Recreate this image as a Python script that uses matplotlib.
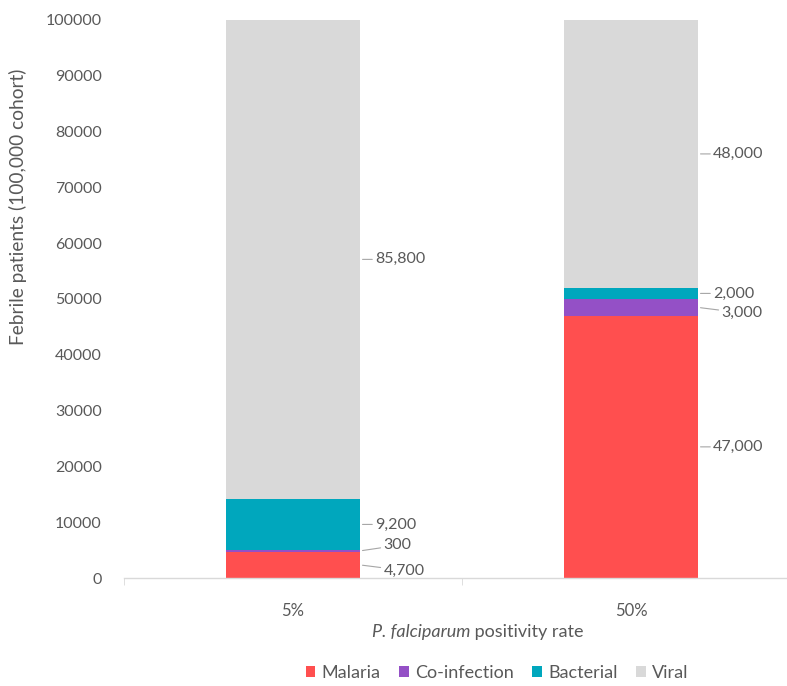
import matplotlib
matplotlib.use("Agg")
import matplotlib.pyplot as plt
from matplotlib.offsetbox import TextArea, HPacker, AnchoredOffsetbox
import numpy as np

plt.rcParams['font.family'] = ['Lato', 'DejaVu Sans']

# data
categories = ["5%", "50%"]
series = ["Malaria", "Co-infection", "Bacterial", "Viral"]
malaria = [4700, 47000]
coinfection = [300, 3000]
bacterial = [9200, 2000]
viral = [85800, 48000]
colors = ["#ff4f4f", "#9450c6", "#00a7bd", "#d9d9d9"]

# label nudges in points (for thin segments)
nudges = {(0, 1): 4, (0, 0): -4, (1, 1): -4}

grey = "#595959"
fig = plt.figure(figsize=(7.87, 6.86), dpi=100)
ax = fig.add_axes([124/787, 1-578/686, 676/787, 558/686])

x = np.arange(len(categories))
width = 0.395
bottom = np.zeros(len(categories))
values = [malaria, coinfection, bacterial, viral]
for si, (name, vals, c) in enumerate(zip(series, values, colors)):
    ax.bar(x, vals, width, bottom=bottom, color=c, label=name, zorder=2)
    for ci, v in enumerate(vals):
        mid = bottom[ci] + v / 2
        dy = nudges.get((ci, si), 0)
        ax.annotate(f"{v:,}", xy=(x[ci] + width/2, mid), xycoords="data",
                    xytext=(11 + (6 if abs(dy) > 0 else 0), dy), textcoords="offset points",
                    ha="left", va="center", fontsize=11.5, color=grey,
                    arrowprops=dict(arrowstyle="-", color="#a6a6a6", lw=0.8,
                                    shrinkA=0, shrinkB=2))
    bottom += np.array(vals)

ax.set_xlim(-0.5, 1.5)
ax.set_ylim(0, 100000)
ax.set_yticks(np.arange(0, 100001, 10000))
ax.yaxis.set_major_formatter(matplotlib.ticker.FuncFormatter(lambda v, p: f"{int(v)}"))
ax.set_xticks(x)
ax.set_xticklabels(categories)
ax.set_xticks([-0.5, 0.5, 1.5], minor=True)
ax.tick_params(axis="y", length=0, pad=16, labelsize=11.5, labelcolor=grey)
ax.tick_params(axis="x", which="major", length=0, pad=18, labelsize=12, labelcolor=grey)
ax.tick_params(axis="x", which="minor", length=5, color="#d9d9d9", direction="out")
for s in ["top", "right", "left"]:
    ax.spines[s].set_visible(False)
ax.spines["bottom"].set_color("#d9d9d9")
ax.spines["bottom"].set_linewidth(1)

ax.set_ylabel("Febrile patients (100,000 cohort)", fontsize=13.8, color=grey)
ax.yaxis.set_label_coords(-0.143, 0.665)

# x label with italic part
t1 = TextArea("P. falciparum", textprops=dict(style="italic", fontsize=13, color=grey))
t2 = TextArea(" positivity rate", textprops=dict(fontsize=13, color=grey))
box = HPacker(children=[t1, t2], align="baseline", pad=0, sep=0)
anch = AnchoredOffsetbox(loc="center", child=box, frameon=False,
                         bbox_to_anchor=(478/787, 1-632/686),
                         bbox_transform=fig.transFigure, borderpad=0)
fig.add_artist(anch)

fig.legend(loc="center", bbox_to_anchor=(497/787, 1-673/686), ncol=4, frameon=False,
           fontsize=13, labelcolor=grey, handlelength=0.55, handleheight=0.55,
           handletextpad=0.35, columnspacing=1.0)

fig.savefig("out.png", dpi=100)
